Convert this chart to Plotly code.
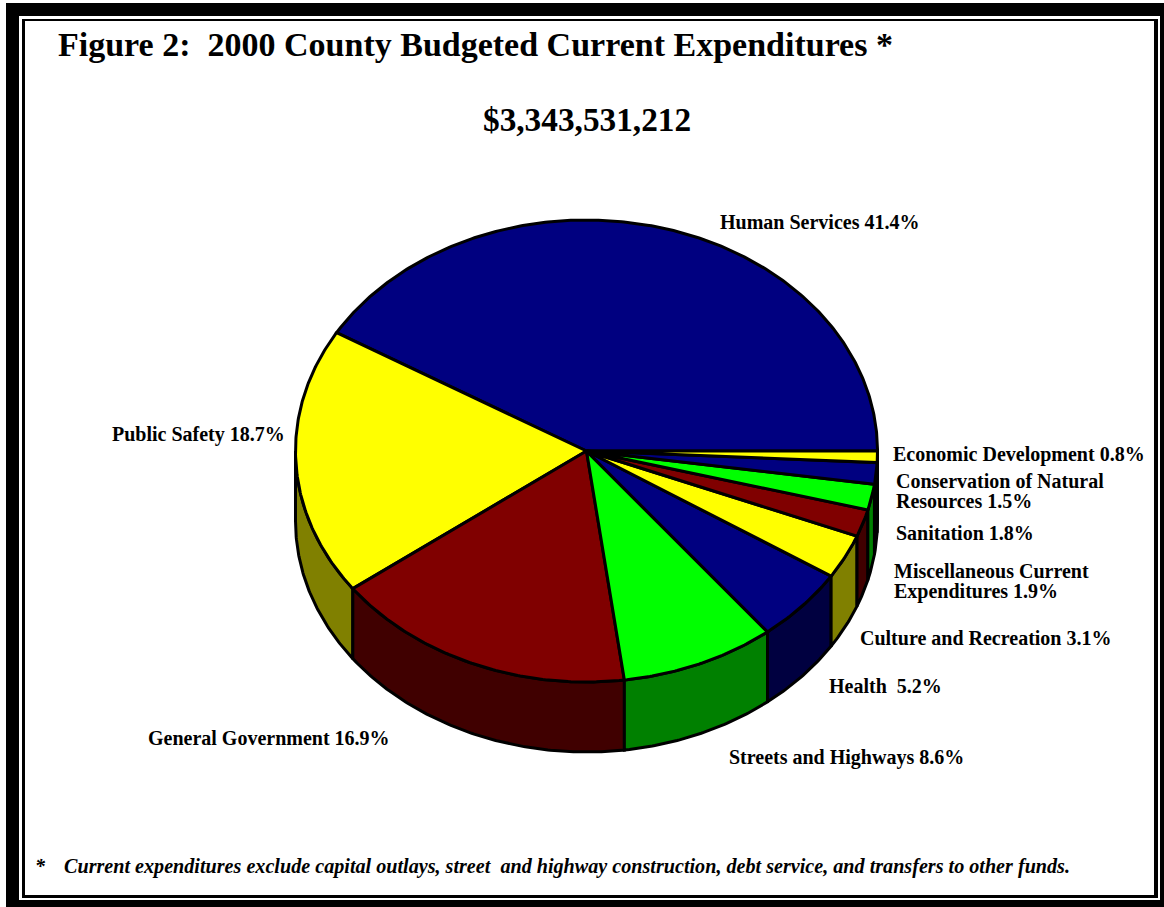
import numpy as np
import plotly.graph_objects as go

# ---- data ----
categories = ["Human Services", "Public Safety", "General Government",
              "Streets and Highways", "Health", "Culture and Recreation",
              "Miscellaneous Current Expenditures", "Sanitation",
              "Conservation of Natural Resources", "Economic Development"]
shares = [41.4, 18.7, 16.9, 8.6, 5.2, 3.1, 1.9, 1.8, 1.5, 0.8]
label_texts = ["Human Services 41.4%", "Public Safety 18.7%", "General Government 16.9%",
               "Streets and Highways 8.6%", "Health  5.2%", "Culture and Recreation 3.1%",
               "Miscellaneous Current|Expenditures 1.9%", "Sanitation 1.8%",
               "Conservation of Natural|Resources 1.5%", "Economic Development 0.8%"]
title_line = "Figure 2:  2000 County Budgeted Current Expenditures *"
total_line = "$3,343,531,212"
note_mark = "*"
note_line = "Current expenditures exclude capital outlays, street  and highway construction, debt service, and transfers to other funds."

# ---- styling and layout ----
top_colors = ["#000080", "#ffff00", "#800000", "#00ff00", "#000080",
              "#ffff00", "#800000", "#00ff00", "#000080", "#ffff00"]
side_colors = ["#000040", "#808000", "#400000", "#008000", "#000040",
               "#808000", "#400000", "#008000", "#000040", "#808000"]
label_pos = [(720, 222), (112, 434), (148, 738), (729, 757), (829, 686),
             (860, 638), (894, 571), (896, 533), (896, 481), (893, 454)]
LINE_GAP = 20
W, H = 1164, 907
CX, CY, RX, RY, DEPTH = 586.5, 451, 291, 231, 70
FONT = "Liberation Serif"
EDGE = 3

fracs = np.array(shares) / sum(shares)
edges = np.concatenate([[0], np.cumsum(fracs)]) * 360.0


def ell(t_deg, dy=0.0):
    t = np.radians(t_deg)
    return CX + RX * np.cos(t), CY - RY * np.sin(t) + dy


fig = go.Figure()

# side walls (only the front half of the disc, 180..360 degrees)
for i, cat in enumerate(categories):
    a, b = max(edges[i], 180.0), min(edges[i + 1], 360.0)
    if b <= a:
        continue
    ts = np.linspace(a, b, max(int((b - a) * 2), 2) + 1)
    x1, y1 = ell(ts)
    x2, y2 = ell(ts[::-1], DEPTH)
    fig.add_trace(go.Scatter(
        x=np.concatenate([x1, x2, x1[:1]]), y=np.concatenate([y1, y2, y1[:1]]),
        mode="lines", fill="toself", fillcolor=side_colors[i],
        line=dict(color="black", width=EDGE), name=cat, hoverinfo="name"))

# top faces
for i, cat in enumerate(categories):
    a, b = edges[i], edges[i + 1]
    ts = np.linspace(a, b, max(int((b - a) * 2), 2) + 1)
    x1, y1 = ell(ts)
    fig.add_trace(go.Scatter(
        x=np.concatenate([[CX], x1, [CX]]), y=np.concatenate([[CY], y1, [CY]]),
        mode="lines", fill="toself", fillcolor=top_colors[i],
        line=dict(color="black", width=EDGE), name=cat, hoverinfo="name"))

# frame
frame = [(6, 3, W, H, "black"), (19, 16, 1160, 900, "white"),
         (22, 19, 1158, 898, "black"), (25, 21, 1154, 895, "white")]
shapes = [dict(type="rect", xref="x", yref="y", x0=a, y0=b, x1=c, y1=d,
               fillcolor=col, line_width=0, layer="below") for a, b, c, d, col in frame]
shapes.insert(0, dict(type="rect", xref="x", yref="y", x0=0, y0=0, x1=W, y1=H,
                      fillcolor="white", line_width=0, layer="below"))


def note(text, x, y, size, anchor="left", italic=False):
    body = f"<b><i>{text}</i></b>" if italic else f"<b>{text}</b>"
    fig.add_annotation(x=x, y=y, xref="x", yref="y", text=body, showarrow=False,
                       xanchor=anchor, yanchor="middle", align="left",
                       xshift=-2 if anchor == "left" else 0,
                       font=dict(family=FONT, size=size, color="black"))


note(title_line, 58, 44, 34)
note(total_line, 587, 119, 33.3, anchor="center")
for txt, (lx, ly) in zip(label_texts, label_pos):
    for k, part in enumerate(txt.split("|")):
        note(part, lx, ly + k * LINE_GAP, 20)
note(note_mark, 35, 866, 20, italic=True)
note(note_line, 64, 866, 20.15, italic=True)

fig.update_layout(
    width=W, height=H, margin=dict(l=0, r=0, t=0, b=0), showlegend=False,
    paper_bgcolor="white", plot_bgcolor="white", shapes=shapes,
    xaxis=dict(range=[0, W], visible=False, fixedrange=True),
    yaxis=dict(range=[H, 0], visible=False, fixedrange=True),
)
fig.write_html("out.html", post_script="document.body.style.margin='0';document.documentElement.style.overflow='hidden';",
               config={"displayModeBar": False})
